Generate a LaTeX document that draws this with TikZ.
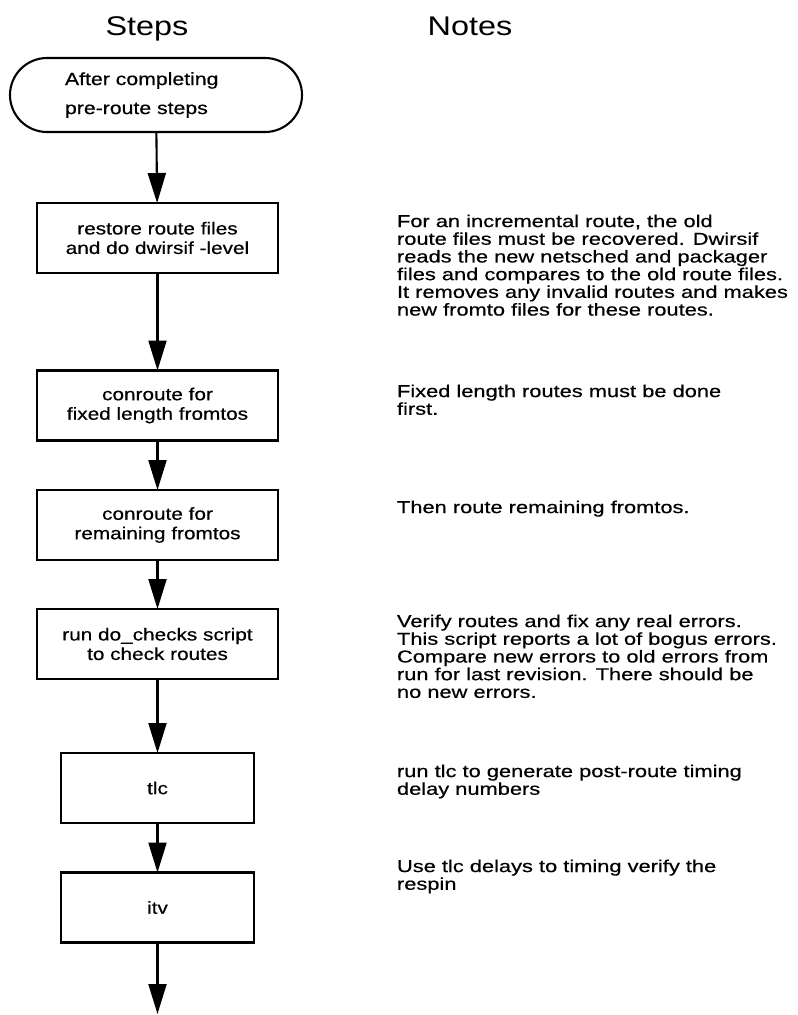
\documentclass[tikz,border=0pt]{standalone}
\usepackage{fontspec}
\setmainfont{Liberation Sans}[FakeStretch=1.2]
\newfontfamily\bodyfont{Liberation Sans}[FakeStretch=1.2,FakeBold=0.5]
\newfontfamily\notefont{Liberation Sans}[FakeStretch=1.27,FakeBold=0.5]
\usetikzlibrary{arrows.meta,shapes.misc}
\begin{document}
\begin{tikzpicture}[x=1pt,y=-1pt,
  every node/.style={inner sep=0pt, outer sep=0pt},
  terminal/.style={draw, line width=2.1pt, rounded rectangle,
    minimum width=292pt, minimum height=74pt, text width=182pt,
    align=left, font=\bodyfont\fontsize{17.7}{29}\selectfont},
  stepbox/.style={draw, line width=2.1pt, rectangle, align=center,
    font=\bodyfont\fontsize{17.3}{19.5}\selectfont},
  widebox/.style={stepbox, minimum width=241pt, minimum height=70pt},
  narrowbox/.style={stepbox, minimum width=193pt, minimum height=70pt},
  note/.style={anchor=north west, align=left, font=\notefont\fontsize{17.2}{17.7}\selectfont},
  heading/.style={anchor=base, font=\fontsize{27}{30}\selectfont},
  flow/.style={line width=2.1pt, -{Triangle[length=30pt,width=18pt]}}
]
\useasboundingbox (0,0) rectangle (798,1015);

% column headings
\node[heading] (hsteps) at (147,35) {Steps};
\node[heading] (hnotes) at (470,35) {Notes};

% flow of steps
\node[terminal] (start) at (156,95) {After completing\\pre-route steps};
\node[widebox] (restore) at (157.5,238) {restore route files\\and do dwirsif -level};
\node[widebox] (fixed) at (157.5,405.5) {conroute for\\fixed length fromtos};
\node[widebox] (remain) at (157.5,525) {conroute for\\remaining fromtos};
\node[widebox] (checks) at (157.5,644) {run do\_checks script\\to check routes};
\node[narrowbox] (tlc) at (157.5,788) {tlc};
\node[narrowbox] (itv) at (157.5,907.5) {itv};
\coordinate (done) at (157.5,1014);

\draw[flow] (start) -- (restore);
\draw[flow] (restore) -- (fixed);
\draw[flow] (fixed) -- (remain);
\draw[flow] (remain) -- (checks);
\draw[flow] (checks) -- (tlc);
\draw[flow] (tlc) -- (itv);
\draw[flow] (itv) -- (done);

% notes beside each step
\node[note] (n1) at (397,214.6) {For an incremental route, the old\\route files must be recovered. Dwirsif\\reads the new netsched and packager\\files and compares to the old route files.\\It removes any invalid routes and makes\\new fromto files for these routes.};
\node[note] (n2) at (397,384.6) {Fixed length routes must be done\\first.};
\node[note] (n3) at (397,500.6) {Then route remaining fromtos.};
\node[note] (n4) at (397,614.6) {Verify routes and fix any real errors.\\This script reports a lot of bogus errors.\\Compare new errors to old errors from\\run for last revision. There should be\\no new errors.};
\node[note] (n5) at (397,764.6) {run tlc to generate post-route timing\\delay numbers};
\node[note] (n6) at (397,859.6) {Use tlc delays to timing verify the\\respin};
\end{tikzpicture}
\end{document}
